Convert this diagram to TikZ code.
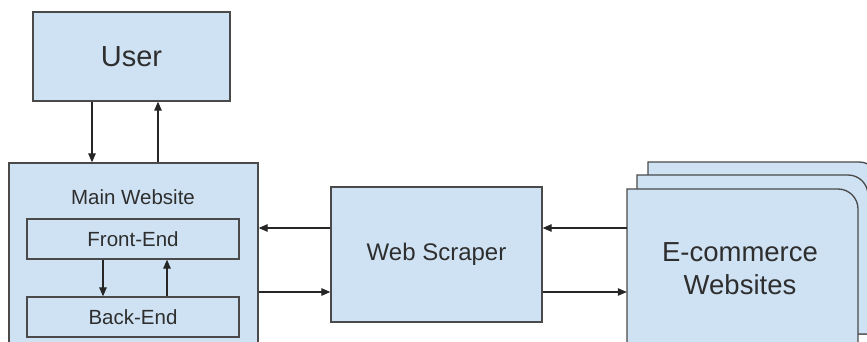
\documentclass[tikz,border=0pt]{standalone}
\usepackage{fontspec}
\setmainfont{Liberation Sans}
\usetikzlibrary{arrows.meta}
\definecolor{boxfill}{HTML}{CFE2F3}
\definecolor{boxline}{HTML}{4A4A4A}
\definecolor{txt}{HTML}{2E2E2E}
\tikzset{
  blk/.style={draw=boxline, fill=boxfill, line width=1.3pt, rectangle, inner sep=0pt},
  lbl/.style={text=txt, inner sep=0pt},
  arr/.style={draw=black!85, line width=1.1pt, -{Triangle[length=9pt,width=7.5pt]}},
  stackbox/.style={draw=boxline, fill=boxfill, line width=1.3pt, rounded corners=0pt}
}
\begin{document}
\begin{tikzpicture}[x=1pt, y=-1pt]
\useasboundingbox (0,0) rectangle (867,342);
\clip (0,0) rectangle (867,342);

% user
\node[blk, minimum width=197pt, minimum height=89pt, font=\fontsize{29}{32}\selectfont, text=txt]
  (user) at (131.5,56.5) {User};

% main website with its two layers
\node[blk, minimum width=249pt, minimum height=197pt] (main) at (133.5,261.5) {};
\node[lbl, font=\fontsize{20.5}{24}\selectfont] (mainlbl) at (133,197) {Main Website};
\node[blk, minimum width=212pt, minimum height=40pt, font=\fontsize{20.5}{24}\selectfont, text=txt]
  (front) at (133,239) {Front-End};
\node[blk, minimum width=212pt, minimum height=40pt, font=\fontsize{20.5}{24}\selectfont, text=txt]
  (back) at (133,317) {Back-End};

% scraper
\node[blk, minimum width=211pt, minimum height=135pt, font=\fontsize{24}{28}\selectfont, text=txt]
  (scraper) at (436.5,254.5) {Web Scraper};

% stack of e-commerce sites (rounded top-right corner only)
\path[stackbox] (648,334) -- (648,162) -- (859,162) [rounded corners=20pt] -- (879,162) [rounded corners=0pt] -- (879,182) -- (879,334) -- cycle;
\path[stackbox] (637,334) -- (637,175) -- (848,175) [rounded corners=20pt] -- (868,175) [rounded corners=0pt] -- (868,195) -- (868,334) -- cycle;
\path[stackbox] (627,360) -- (627,189) -- (838,189) [rounded corners=20pt] -- (858,189) [rounded corners=0pt] -- (858,209) -- (858,360) -- cycle;
\node[minimum width=231pt, minimum height=159pt, inner sep=0pt] (shops) at (742.5,268.5) {};
\node[lbl, align=center, font=\fontsize{27.5}{33}\selectfont] (shopslbl) at (740,268.5) {E-commerce\\Websites};

% connectors
\draw[arr] ([xshift=-39.5pt]user.south) -- ([xshift=-39.5pt]user.south |- main.north);
\draw[arr] ([xshift=26.5pt]user.south |- main.north) -- ([xshift=26.5pt]user.south);
\draw[arr] ([xshift=-30pt]front.south) -- ([xshift=-30pt]front.south |- back.north);
\draw[arr] ([xshift=34pt]front.south |- back.north) -- ([xshift=34pt]front.south);
\draw[arr] ([yshift=26.5pt]scraper.west) -- ([yshift=26.5pt]scraper.west -| main.east);
\draw[arr] ([yshift=-37.5pt]scraper.west -| main.east) -- ([yshift=-37.5pt]scraper.west);
\draw[arr] ([yshift=26.5pt]scraper.east -| shops.west) -- ([yshift=26.5pt]scraper.east);
\draw[arr] ([yshift=-37.5pt]scraper.east) -- ([yshift=-37.5pt]scraper.east -| shops.west);
\end{tikzpicture}
\end{document}
